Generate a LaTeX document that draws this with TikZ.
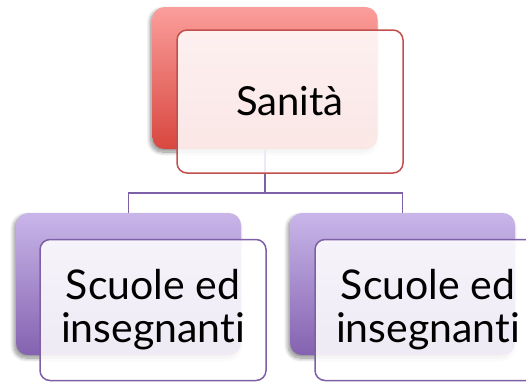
\documentclass[tikz,border=0pt]{standalone}
\usepackage{fontspec}
\setmainfont{Lato}[Ligatures={NoCommon,NoRare}]
\usetikzlibrary{shadows.blur}
\definecolor{redtop}{HTML}{FB9E9B}
\definecolor{redbot}{HTML}{D8473F}
\definecolor{redline}{HTML}{C0504D}
\definecolor{purtop}{HTML}{C9B6E9}
\definecolor{purbot}{HTML}{8462B0}
\definecolor{purline}{HTML}{7D60A6}

\tikzset{
  backbox/.style={rounded corners=12pt, minimum width=225pt, minimum height=142pt,
    inner sep=0pt,
    blur shadow={shadow xshift=-2pt, shadow yshift=-3pt, shadow blur steps=10,
      shadow blur radius=4pt, shadow opacity=45}},
  redback/.style={backbox, top color=redtop, bottom color=redbot},
  purback/.style={backbox, top color=purtop, bottom color=purbot},
  frontbox/.style={rounded corners=10pt, minimum width=226pt, minimum height=141pt,
    inner sep=0pt, fill=white, fill opacity=0.87, text opacity=1, draw opacity=1,
    line width=1.5pt, align=center, text=black},
  redfront/.style={frontbox, draw=redline, font=\fontsize{40}{43}\selectfont},
  purfront/.style={frontbox, draw=purline, font=\fontsize{41}{43}\selectfont},
  link/.style={draw=purline, line width=1.6pt},
}

\begin{document}
\begin{tikzpicture}[x=1pt, y=-1pt]
  \useasboundingbox (0,0) rectangle (526,381);
  \clip (0,0) rectangle (526,381);

  % coloured back panels
  \node[redback] (topback) at (265,78) {};
  \node[purback] (leftback) at (128.5,284) {};
  \node[purback] (rightback) at (402.5,284) {};

  % tree connectors
  \coordinate (junction) at (265,193);
  \draw[link] (topback.south) -- (junction) -| (leftback.north);
  \draw[link] (junction) -| (rightback.north);

  % translucent front cards with the labels
  \node[redfront, minimum height=143pt] (top) at (290,101.5) {Sanità};
  \node[purfront] (left) at (153,310) {Scuole ed\\insegnanti};
  \node[purfront] (right) at (428,310) {Scuole ed\\insegnanti};
\end{tikzpicture}
\end{document}
